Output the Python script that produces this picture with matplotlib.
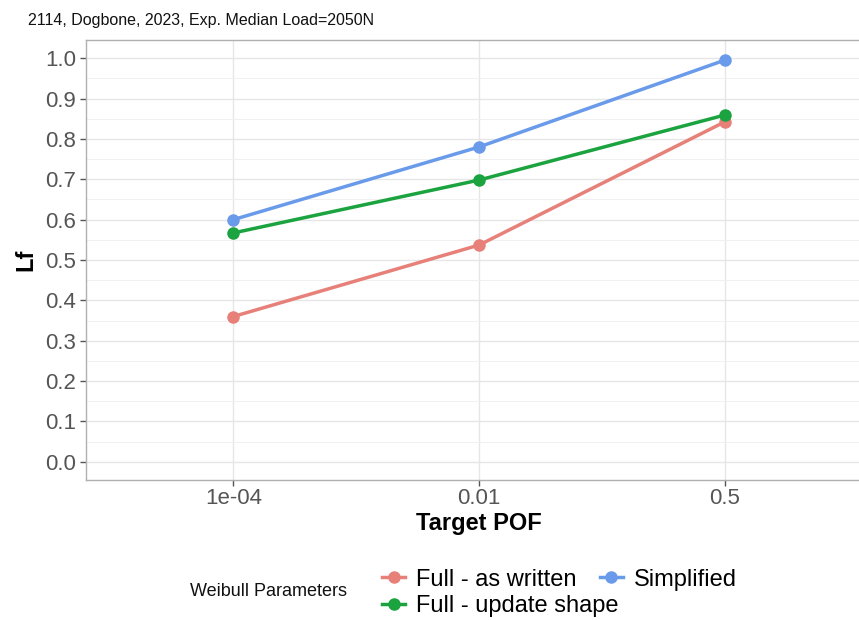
import matplotlib
matplotlib.use("Agg")
from matplotlib import pyplot as plt
from matplotlib.ticker import MultipleLocator
import numpy as np

plt.rcParams['font.family'] = ['Liberation Sans', 'DejaVu Sans']

pof_labels = ["1e-04", "0.01", "0.5"]
full_written = [0.36, 0.537, 0.842]
full_update = [0.567, 0.698, 0.859]
simplified = [0.60, 0.78, 0.995]
series_names = ["Full - as written", "Full - update shape", "Simplified"]
colors = ["#E8807A", "#1BA33F", "#6A9BEA"]

fig = plt.figure(figsize=(8.59, 6.2), dpi=100)
ax = fig.add_axes([86/859, 1 - 480/620, (872 - 86)/859, 440/620])

x = np.arange(1, len(pof_labels) + 1)
for vals, name, c in zip([full_written, full_update, simplified], series_names, colors):
    ax.plot(x, vals, color=c, lw=2.5, marker='o', ms=8, label=name, zorder=3)

ax.set_xlim(0.4, 3.6)
ax.set_ylim(-0.045, 1.045)
ax.set_xticks(x)
ax.set_xticklabels(pof_labels)
ax.yaxis.set_minor_locator(MultipleLocator(0.05))
yt = np.arange(0, 1.01, 0.1)
ax.set_yticks(yt)
ax.set_yticklabels([f"{v:.1f}" for v in yt])

ax.grid(which='major', color='#e6e6e6', lw=1.0)
ax.grid(which='minor', axis='y', color='#f0f0f0', lw=0.7)
ax.set_axisbelow(True)
for sp in ax.spines.values():
    sp.set_color('#b0b0b0')
    sp.set_linewidth(1.0)
ax.tick_params(which='major', colors='#555555', labelsize=16, length=4, width=1)
ax.tick_params(which='minor', length=0)
ax.tick_params(axis='x', pad=2)
ax.tick_params(axis='y', pad=3)

ax.set_xlabel("Target POF", fontsize=17, fontweight='bold', labelpad=2)
ax.set_ylabel("Lf", fontsize=17, fontweight='bold', labelpad=6)

fig.text(28/859, 1 - 20/620, "2114, Dogbone, 2023, Exp. Median Load=2050N",
         fontsize=11.5, va='center', ha='left', color='#111111')

fig.text(190/859, 1 - 592/620, "Weibull Parameters", fontsize=13,
         va='center', ha='left', color='#111111')
leg = fig.legend(loc='center left', bbox_to_anchor=(370/859, 1 - 593/620), ncol=2,
                 frameon=False, fontsize=17, handlelength=1.0, handletextpad=0.45,
                 columnspacing=-0.8, labelspacing=0.2, borderpad=0)

fig.savefig("out.png", dpi=100)
